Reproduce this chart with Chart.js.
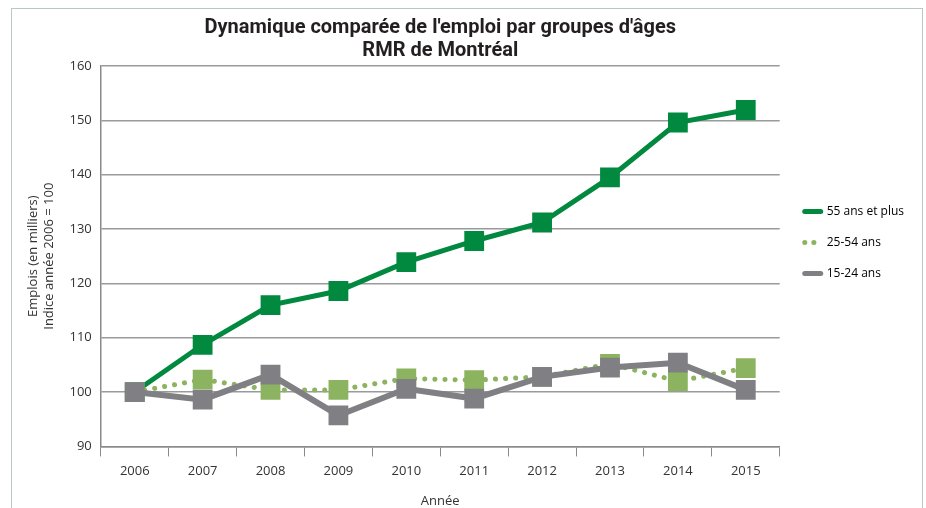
<!DOCTYPE html>
<html>
<head>
<meta charset="utf-8">
<script src="https://cdn.jsdelivr.net/npm/chart.js@4/dist/chart.umd.min.js"></script>
<style>
  html, body { margin: 0; padding: 0; background: #fff; }
  #wrap { width: 926px; height: 508px; }
</style>
</head>
<body>
<div id="wrap"><canvas id="myChart" width="926" height="508"></canvas></div>
<script>
// données
var annees = ['2006', '2007', '2008', '2009', '2010', '2011', '2012', '2013', '2014', '2015'];
var plus55 = [100, 108.7, 116.0, 118.6, 123.9, 127.8, 131.2, 139.5, 149.6, 151.9];
var ans2554 = [100, 102.3, 100.4, 100.4, 102.5, 102.2, 102.8, 105.2, 102.0, 104.4];
var ans1524 = [100, 98.6, 103.2, 95.7, 100.6, 98.8, 102.8, 104.5, 105.4, 100.4];
var yTicks = [90, 100, 110, 120, 130, 140, 150, 160];

var vertFonce = '#00893f';
var vertPale = '#8cb360';
var gris = '#808084';

/* cadre autour du graphique + petit décalage de la légende */
var cadre = {
    id: 'cadre',
    afterLayout: function(chart) {
        chart.legend.left += 6;
        chart.legend.right += 6;
    },
    beforeDraw: function(chart) {
        var c = chart.ctx;
        c.save();
        c.strokeStyle = '#b7cabd';
        c.lineWidth = 1;
        c.strokeRect(11.5, 8.5, 911, 520);
        c.restore();
    }
};

var ctx = document.getElementById("myChart").getContext('2d');
var myChart = new Chart(ctx, {
    type: 'line',
    data: {
        labels: annees,
        datasets: [{
            label: '55 ans et plus',
            data: plus55,
            borderColor: vertFonce,
            backgroundColor: vertFonce,
            borderWidth: 5,
            pointStyle: 'rect',
            pointRadius: 14,
            pointBorderWidth: 0,
            order: 3
        }, {
            label: '25-54 ans',
            data: ans2554,
            borderColor: vertPale,
            backgroundColor: vertPale,
            borderWidth: 5,
            borderDash: [0.1, 10],
            borderCapStyle: 'round',
            pointStyle: 'rect',
            pointRadius: 14,
            pointBorderWidth: 0,
            order: 2
        }, {
            label: '15-24 ans',
            data: ans1524,
            borderColor: gris,
            backgroundColor: gris,
            borderWidth: 6,
            pointStyle: 'rect',
            pointRadius: 14,
            pointBorderWidth: 0,
            order: 1
        }]
    },
    options: {
        responsive: false,
        animation: false,
        events: [],
        layout: {
            padding: { left: 25, right: 18, top: 8, bottom: 0 }
        },
        plugins: {
            title: {
                display: true,
                fullSize: false,
                text: ["Dynamique comparée de l'emploi par groupes d'âges", 'RMR de Montréal'],
                color: '#231f20',
                font: { family: 'Roboto', size: 20, weight: 'bold', lineHeight: 1.15 },
                padding: { top: 8, bottom: 4 }
            },
            legend: {
                position: 'right',
                align: 'center',
                labels: {
                    usePointStyle: true,
                    pointStyleWidth: 16,
                    padding: 19,
                    color: '#333',
                    font: { family: 'Open Sans', size: 12 },
                    generateLabels: function(chart) {
                        var items = chart.data.datasets.map(function(ds, i) {
                            return {
                                text: ds.label,
                                fillStyle: ds.borderColor,
                                strokeStyle: ds.borderColor,
                                lineWidth: 5,
                                lineCap: 'round',
                                lineDash: ds.borderDash ? [0.1, 9] : [],
                                pointStyle: 'line',
                                hidden: false,
                                datasetIndex: i
                            };
                        });
                        // ligne vide : remonte la légende comme dans l'original
                        items.push({ text: '', fillStyle: 'rgba(0,0,0,0)', strokeStyle: 'rgba(0,0,0,0)',
                                     lineWidth: 0, pointStyle: 'line', hidden: false });
                        return items;
                    }
                }
            },
            tooltip: { enabled: false }
        },
        scales: {
            x: {
                offset: true,
                grid: {
                    offset: true,
                    drawOnChartArea: false,
                    drawTicks: true,
                    tickLength: 10,
                    color: '#8a8a8a',
                    lineWidth: 1
                },
                border: { color: '#8a8a8a', width: 1.5 },
                ticks: {
                    color: '#333',
                    font: { family: 'Open Sans', size: 13 },
                    padding: 7
                },
                title: {
                    display: true,
                    text: 'Année',
                    color: '#333',
                    font: { family: 'Open Sans', size: 13, lineHeight: 1 },
                    padding: { top: 9, bottom: 0 }
                }
            },
            y: {
                min: 90,
                max: 160,
                afterBuildTicks: function(scale) {
                    scale.ticks = yTicks.map(function(v) { return { value: v }; });
                },
                grid: {
                    drawTicks: false,
                    color: '#9a9a9a',
                    lineWidth: 1.5
                },
                border: { color: '#8a8a8a', width: 1.5 },
                ticks: {
                    color: '#333',
                    font: { family: 'Open Sans', size: 13 },
                    padding: 9
                },
                title: {
                    display: true,
                    text: ['Emplois (en milliers)', 'Indice année 2006 = 100'],
                    color: '#333',
                    font: { family: 'Open Sans', size: 13, lineHeight: 1.25 },
                    padding: { top: 0, bottom: 3 }
                }
            }
        }
    },
    plugins: [cadre]
});
</script>
</body>
</html>
